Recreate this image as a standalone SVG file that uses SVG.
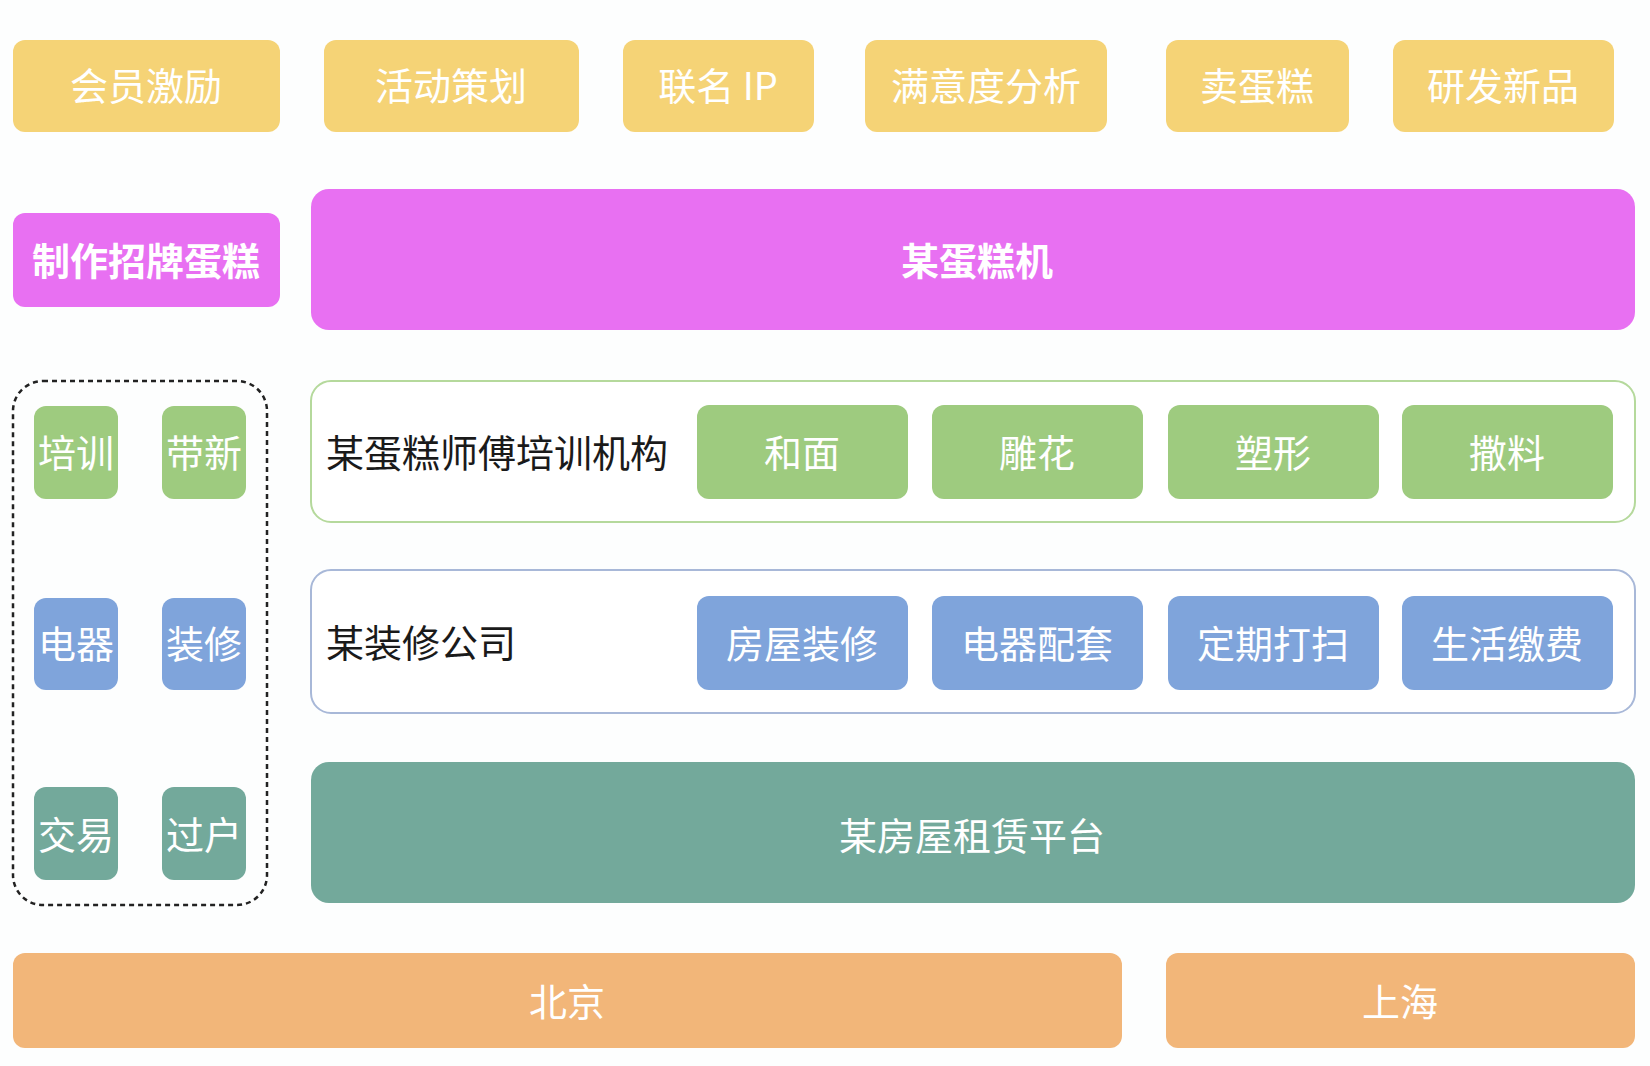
<svg xmlns="http://www.w3.org/2000/svg" width="1650" height="1066" viewBox="0 0 1650 1066">
<style>
text{font-family:"Noto Sans CJK SC","Noto Sans",sans-serif;font-size:38px;text-anchor:middle;dominant-baseline:central}
.w{fill:#ffffff}
.k{fill:#1a1a1a;text-anchor:start}
.y{fill:#F5D376}
.m{fill:#E870F2}
.g{fill:#9ECB7F}
.b{fill:#7FA4DB}
.t{fill:#73A99B}
.o{fill:#F2B679}
</style>
<rect width="1650" height="1066" fill="#fdfefe"/>
<g id="n-huiyuan"><rect class="y" x="13" y="40" width="267" height="92" rx="12"/><text class="w" x="146" y="83">会员激励</text></g>
<g id="n-huodong"><rect class="y" x="324" y="40" width="255" height="92" rx="12"/><text class="w" x="451" y="83">活动策划</text></g>
<g id="n-lianming"><rect class="y" x="623" y="40" width="191" height="92" rx="12"/><text class="w" x="718" y="83">联名 IP</text></g>
<g id="n-manyi"><rect class="y" x="865" y="40" width="242" height="92" rx="12"/><text class="w" x="986" y="83">满意度分析</text></g>
<g id="n-mai"><rect class="y" x="1166" y="40" width="183" height="92" rx="12"/><text class="w" x="1257" y="83">卖蛋糕</text></g>
<g id="n-yanfa"><rect class="y" x="1393" y="40" width="221" height="92" rx="12"/><text class="w" x="1503" y="83">研发新品</text></g>

<g id="n-zhaopai"><rect class="m" x="13" y="213" width="267" height="94" rx="12"/><text class="w" x="146" y="258" font-weight="bold">制作招牌蛋糕</text></g>
<g id="n-dangaoji"><rect class="m" x="311" y="189" width="1324" height="141" rx="18"/><text class="w" x="977" y="258" font-weight="bold">某蛋糕机</text></g>

<g id="n-group"><rect x="13" y="381" width="254" height="524" rx="30" fill="none" stroke="#222" stroke-width="2.5" stroke-dasharray="5 4"/>
<g id="n-peixun"><rect class="g" x="34" y="406" width="84" height="93" rx="12"/><text class="w" x="76" y="450">培训</text></g>
<g id="n-daixin"><rect class="g" x="162" y="406" width="84" height="93" rx="12"/><text class="w" x="204" y="450">带新</text></g>
<g id="n-dianqi"><rect class="b" x="34" y="598" width="84" height="92" rx="12"/><text class="w" x="76" y="641">电器</text></g>
<g id="n-zhuangxiu"><rect class="b" x="162" y="598" width="84" height="92" rx="12"/><text class="w" x="204" y="641">装修</text></g>
<g id="n-jiaoyi"><rect class="t" x="34" y="787" width="84" height="93" rx="12"/><text class="w" x="76" y="832">交易</text></g>
<g id="n-guohu"><rect class="t" x="162" y="787" width="84" height="93" rx="12"/><text class="w" x="204" y="832">过户</text></g>
</g>

<g id="n-peixunjigou"><rect x="311" y="381" width="1324" height="141" rx="20" fill="#ffffff" stroke="#b5d99c" stroke-width="2"/><text class="k" x="326" y="450">某蛋糕师傅培训机构</text>
<g id="n-hemian"><rect class="g" x="697" y="405" width="211" height="94" rx="12"/><text class="w" x="802" y="450">和面</text></g>
<g id="n-diaohua"><rect class="g" x="932" y="405" width="211" height="94" rx="12"/><text class="w" x="1037" y="450">雕花</text></g>
<g id="n-suxing"><rect class="g" x="1168" y="405" width="211" height="94" rx="12"/><text class="w" x="1273" y="450">塑形</text></g>
<g id="n-saliao"><rect class="g" x="1402" y="405" width="211" height="94" rx="12"/><text class="w" x="1507" y="450">撒料</text></g>
</g>

<g id="n-zhuangxiugongsi"><rect x="311" y="570" width="1324" height="143" rx="20" fill="#ffffff" stroke="#a8b8d8" stroke-width="2"/><text class="k" x="326" y="640">某装修公司</text>
<g id="n-fangwu"><rect class="b" x="697" y="596" width="211" height="94" rx="12"/><text class="w" x="802" y="641">房屋装修</text></g>
<g id="n-peitao"><rect class="b" x="932" y="596" width="211" height="94" rx="12"/><text class="w" x="1037" y="641">电器配套</text></g>
<g id="n-dasao"><rect class="b" x="1168" y="596" width="211" height="94" rx="12"/><text class="w" x="1273" y="641">定期打扫</text></g>
<g id="n-jiaofei"><rect class="b" x="1402" y="596" width="211" height="94" rx="12"/><text class="w" x="1507" y="641">生活缴费</text></g>
</g>

<g id="n-zulin"><rect class="t" x="311" y="762" width="1324" height="141" rx="18"/><text class="w" x="972" y="833">某房屋租赁平台</text></g>

<g id="n-beijing"><rect class="o" x="13" y="953" width="1109" height="95" rx="12"/><text class="w" x="567" y="999">北京</text></g>
<g id="n-shanghai"><rect class="o" x="1166" y="953" width="469" height="95" rx="12"/><text class="w" x="1400" y="999">上海</text></g>

<g id="connectors"></g>
</svg>
